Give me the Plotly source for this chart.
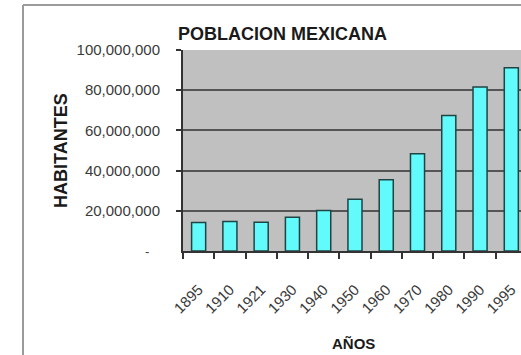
import plotly.graph_objects as go

years = ["1895", "1910", "1921", "1930", "1940", "1950", "1960", "1970", "1980", "1990", "1995"]
population = [14.2e6, 14.7e6, 14.3e6, 16.8e6, 20.2e6, 25.7e6, 35.4e6, 48.4e6, 67.4e6, 81.6e6, 91.2e6]
y_ticks = [20e6, 40e6, 60e6, 80e6, 100e6]
y_tick_labels = ["20,000,000", "40,000,000", "60,000,000", "80,000,000", "100,000,000"]
title_text = "POBLACION MEXICANA"
y_title = "HABITANTES"
x_title = "AÑOS"

W, H = 521, 355
L, R, T, B = 183, 0, 50, 104
pw = W - L - R
ph = H - T - B

def px(x):
    return (x - L) / pw

def py(y):
    return (H - B - y) / ph

FONT = "Liberation Sans, Arial, sans-serif"

fig = go.Figure()
fig.add_trace(go.Bar(
    x=years, y=population,
    marker=dict(color="#62fafa", line=dict(color="#1f4444", width=1.5)),
))

fig.update_layout(
    width=W, height=H,
    margin=dict(l=L, r=R, t=T, b=B),
    paper_bgcolor="white",
    plot_bgcolor="#c0c0c0",
    showlegend=False,
    bargap=0.55,
    xaxis=dict(
        type="category",
        range=[-0.5, 10.31],
        tickson="boundaries",
        ticks="outside", ticklen=6, tickwidth=1.5, tickcolor="#333",
        showline=True, linecolor="#333", linewidth=2,
        showgrid=False,
        tickangle=-45,
        tickfont=dict(family=FONT, size=15, color="#3a3a3a"),
        ticklabelstandoff=22,
    ),
    yaxis=dict(
        range=[0, 100e6],
        tickvals=y_ticks, ticktext=y_tick_labels,
        ticks="outside", ticklen=5, tickwidth=1.5, tickcolor="#333",
        showline=True, linecolor="#333", linewidth=2,
        showgrid=True, gridcolor="#555", gridwidth=2,
        zeroline=False,
        tickfont=dict(family=FONT, size=15, color="#3a3a3a"),
        ticklabelstandoff=13,
    ),
    shapes=[
        dict(type="line", xref="paper", yref="paper", x0=px(23), x1=px(23), y0=py(5), y1=py(400),
             line=dict(color="#9a9a9a", width=2)),
        dict(type="line", xref="paper", yref="paper", x0=px(23), x1=px(600), y0=py(5), y1=py(5),
             line=dict(color="#9a9a9a", width=2)),
    ],
    annotations=[
        dict(text=title_text, xref="paper", yref="paper", x=px(176), y=py(34),
             xanchor="left", yanchor="middle", showarrow=False,
             font=dict(family=FONT, size=18, color="#1a1a1a", weight="bold")),
        dict(text=y_title, xref="paper", yref="paper", x=px(61), y=py(151),
             xanchor="center", yanchor="middle", showarrow=False, textangle=-90,
             font=dict(family=FONT, size=18, color="#1a1a1a", weight="bold")),
        dict(text=x_title, xref="paper", yref="paper", x=px(353), y=py(343),
             xanchor="center", yanchor="middle", showarrow=False,
             font=dict(family=FONT, size=15, color="#1a1a1a", weight="bold")),
        dict(text="-", xref="paper", yref="paper", x=px(147), y=py(251),
             xanchor="center", yanchor="middle", showarrow=False,
             font=dict(family=FONT, size=13, color="#444")),
    ],
)

fig.write_html("out.html")
